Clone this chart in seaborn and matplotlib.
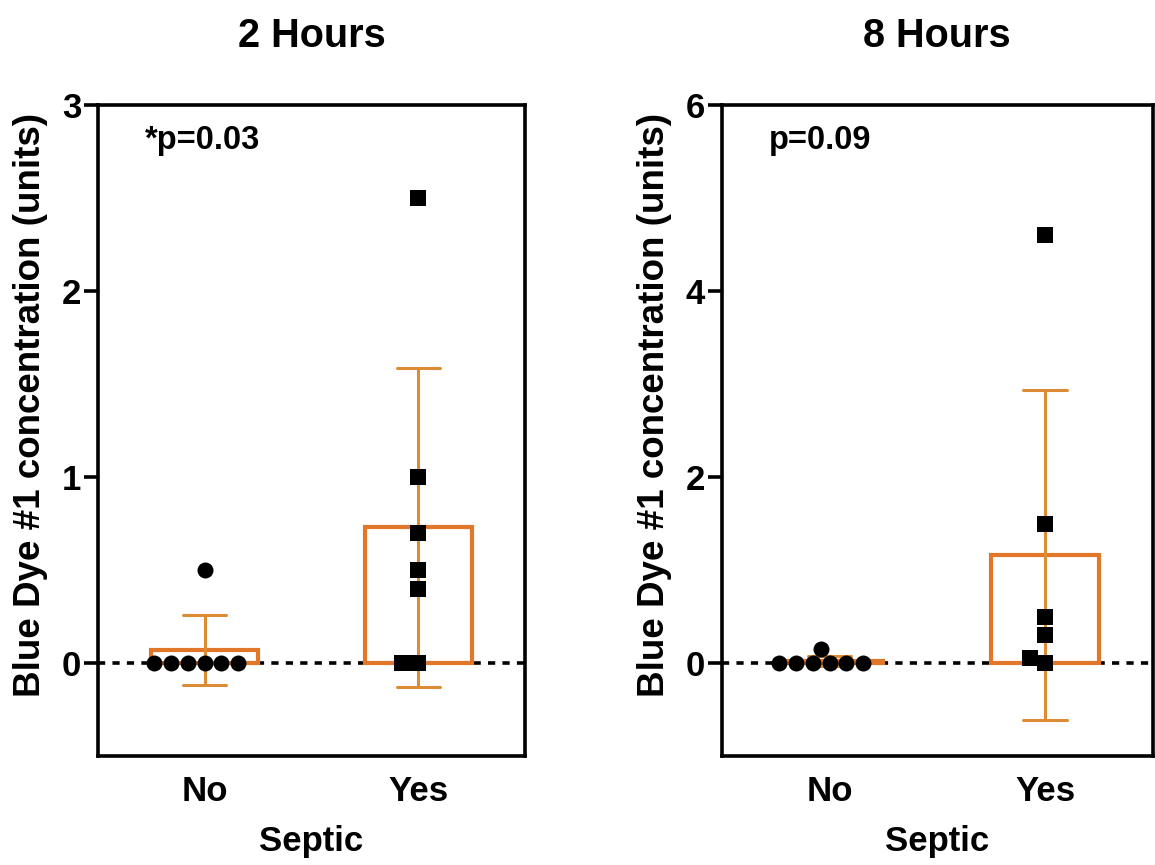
import matplotlib
matplotlib.use('Agg')
import matplotlib.pyplot as plt
import seaborn as sns
import pandas as pd

# --- DATA ---
CATEGORIES = ["No", "Yes"]
H2_NO = [0, 0, 0, 0, 0, 0, 0.5]
H2_YES = [2.5, 1.0, 0.7, 0.5, 0.4, 0, 0]
H8_NO = [0, 0, 0, 0, 0, 0, 0.15]
H8_YES = [4.6, 1.5, 0.5, 0.3, 0.05, 0]

PANEL_TITLES = ["2 Hours", "8 Hours"]
P_TEXT = ["*p=0.03", "p=0.09"]
Y_LIMS = [(-0.5, 3), (-1, 6)]
Y_TICKS = [[0, 1, 2, 3], [0, 2, 4, 6]]

BAR_EDGE = "#E2772A"
ERR_COL = "#DC8C34"


def make_df(no_vals, yes_vals):
    return pd.DataFrame({
        "Septic": ["No"] * len(no_vals) + ["Yes"] * len(yes_vals),
        "conc": list(no_vals) + list(yes_vals),
    })


sns.set_theme(style="ticks")
plt.rcParams['font.family'] = ['Liberation Sans', 'DejaVu Sans']
plt.rcParams['font.weight'] = 'bold'
for key in ['text.color', 'axes.labelcolor', 'xtick.color', 'ytick.color']:
    plt.rcParams[key] = 'black'

fig = plt.figure(figsize=(11.55, 8.65), dpi=100)
axes = [fig.add_axes([0.0848, 0.126, 0.3697, 0.7526]),
        fig.add_axes([0.6250, 0.126, 0.3730, 0.7526])]

frames = [make_df(H2_NO, H2_YES), make_df(H8_NO, H8_YES)]

for i, (ax, df) in enumerate(zip(axes, frames)):
    ax.axhline(0, color="black", lw=2.6, ls=(0, (2, 2)), zorder=1)

    sns.barplot(data=df, x="Septic", y="conc", order=CATEGORIES, ax=ax,
                width=0.5, color="white", edgecolor=BAR_EDGE, linewidth=3,
                errorbar="sd", capsize=0.2,
                err_kws={"color": ERR_COL, "linewidth": 2.2})

    # points: circles for No, squares for Yes
    sns.swarmplot(data=df[df["Septic"] == "No"], x="Septic", y="conc",
                  order=CATEGORIES, ax=ax, color="black", marker="o",
                  size=11.5, zorder=5)
    sns.swarmplot(data=df[df["Septic"] == "Yes"], x="Septic", y="conc",
                  order=CATEGORIES, ax=ax, color="black", marker="s",
                  size=11, zorder=5)

    ax.set_xlim(-0.5, 1.5)
    ax.set_ylim(*Y_LIMS[i])
    ax.set_yticks(Y_TICKS[i])
    ax.tick_params(axis="y", length=10, width=2.6, labelsize=25, pad=2)
    ax.tick_params(axis="x", length=0, labelsize=25, pad=14)
    for lab in ax.get_xticklabels() + ax.get_yticklabels():
        lab.set_fontweight("bold")
    for sp in ax.spines.values():
        sp.set_visible(True)
        sp.set_linewidth(2.6)
        sp.set_color("black")

    ax.set_xlabel("Septic", fontsize=25, fontweight="bold", labelpad=12)
    ax.set_ylabel("Blue Dye #1 concentration (units)", fontsize=26.5,
                  fontweight="bold")
    ax.yaxis.set_label_coords(-0.116, 0.54)
    ax.set_title(PANEL_TITLES[i], fontsize=28.5, fontweight="bold", pad=42)
    ax.text(0.11, 0.945, P_TEXT[i], transform=ax.transAxes, fontsize=23.5,
            fontweight="bold", ha="left", va="center")

fig.savefig("out.png", dpi=100)
